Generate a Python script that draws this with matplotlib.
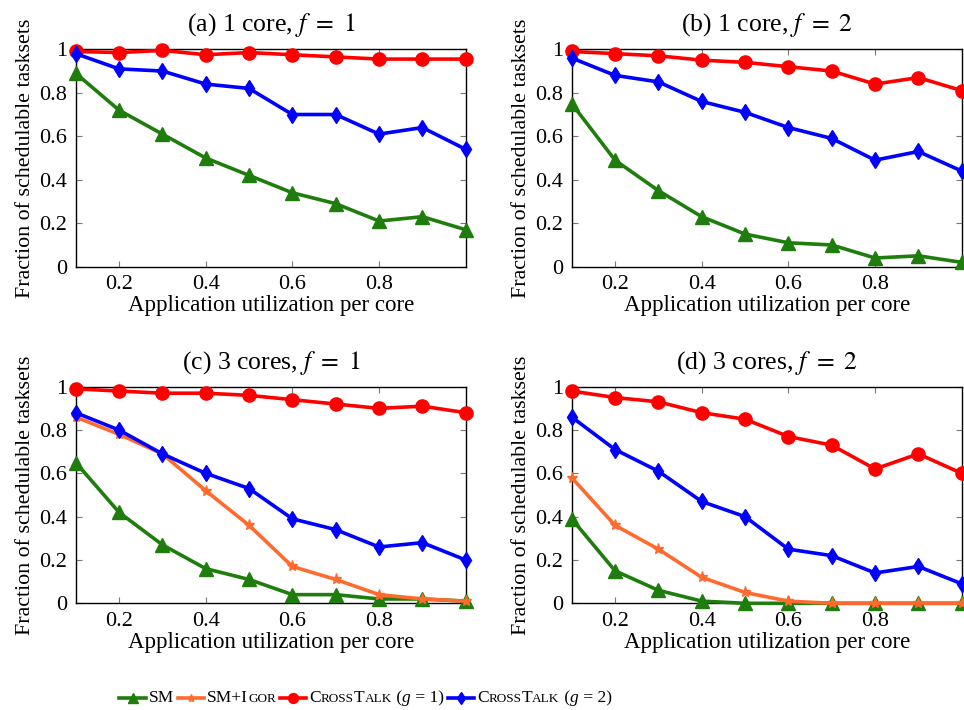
import numpy as np
import matplotlib
matplotlib.use("Agg")
import matplotlib.pyplot as plt
from matplotlib.lines import Line2D
from matplotlib.offsetbox import HPacker, TextArea, DrawingArea, AnchoredOffsetbox

plt.rcParams['font.family'] = ['Liberation Serif', 'DejaVu Serif']
plt.rcParams['mathtext.fontset'] = 'stix'

# utilization per core
util = [0.1, 0.2, 0.3, 0.4, 0.5, 0.6, 0.7, 0.8, 0.9, 1.0]

titles = [r"(a) 1 core, $f\ =\ 1$", r"(b) 1 core, $f\ =\ 2$",
          r"(c) 3 cores, $f\ =\ 1$", r"(d) 3 cores, $f\ =\ 2$"]

# (a) 1 core, f=1
a_sm = [0.89, 0.72, 0.61, 0.50, 0.42, 0.34, 0.29, 0.21, 0.23, 0.17]
a_ct1 = [0.99, 0.985, 0.995, 0.975, 0.985, 0.975, 0.965, 0.955, 0.955, 0.955]
a_ct2 = [0.98, 0.91, 0.90, 0.84, 0.82, 0.70, 0.70, 0.61, 0.64, 0.54]

# (b) 1 core, f=2
b_sm = [0.75, 0.49, 0.35, 0.23, 0.15, 0.11, 0.10, 0.04, 0.05, 0.02]
b_ct1 = [0.99, 0.98, 0.97, 0.95, 0.94, 0.92, 0.90, 0.84, 0.87, 0.81]
b_ct2 = [0.96, 0.88, 0.85, 0.76, 0.71, 0.64, 0.59, 0.49, 0.53, 0.44]

# (c) 3 cores, f=1
c_sm = [0.65, 0.42, 0.27, 0.16, 0.11, 0.04, 0.04, 0.02, 0.02, 0.01]
c_igor = [0.86, 0.78, 0.69, 0.52, 0.36, 0.17, 0.11, 0.04, 0.02, 0.01]
c_ct1 = [0.99, 0.98, 0.97, 0.97, 0.96, 0.94, 0.92, 0.90, 0.91, 0.88]
c_ct2 = [0.88, 0.80, 0.69, 0.60, 0.53, 0.39, 0.34, 0.26, 0.28, 0.20]

# (d) 3 cores, f=2
d_sm = [0.39, 0.15, 0.06, 0.01, 0.0, 0.0, 0.0, 0.0, 0.0, 0.0]
d_igor = [0.58, 0.36, 0.25, 0.12, 0.05, 0.01, 0.0, 0.0, 0.0, 0.0]
d_ct1 = [0.98, 0.95, 0.93, 0.88, 0.85, 0.77, 0.73, 0.62, 0.69, 0.60]
d_ct2 = [0.86, 0.71, 0.61, 0.47, 0.40, 0.25, 0.22, 0.14, 0.17, 0.09]

green = '#1e7d0c'
orange = '#ff6a2e'
red = '#ff0000'
blue = '#0000ff'

styles = {
    'sm': dict(color=green, marker='^', ms=10),
    'igor': dict(color=orange, marker='*', ms=8),
    'ct1': dict(color=red, marker='o', ms=9.5),
    'ct2': dict(color=blue, marker='d', ms=8.5),
}

panels = [
    {'sm': a_sm, 'ct1': a_ct1, 'ct2': a_ct2},
    {'sm': b_sm, 'ct1': b_ct1, 'ct2': b_ct2},
    {'sm': c_sm, 'igor': c_igor, 'ct1': c_ct1, 'ct2': c_ct2},
    {'sm': d_sm, 'igor': d_igor, 'ct1': d_ct1, 'ct2': d_ct2},
]

W, H = 964, 710
fig = plt.figure(figsize=(W / 100, H / 100), dpi=100)

# axes boxes in pixels: left, top, right, bottom
boxes = [(75.7, 49.3, 465.7, 266.7), (571.7, 49.3, 961.7, 266.7),
         (75.7, 386.7, 465.7, 603.3), (571.7, 386.7, 961.7, 603.3)]

for box, title, data in zip(boxes, titles, panels):
    l, t, r, b = box
    ax = fig.add_axes([l / W, 1 - b / H, (r - l) / W, (b - t) / H])
    for key in ['sm', 'igor', 'ct1', 'ct2']:
        if key in data:
            st = styles[key]
            ax.plot(util, data[key], color=st['color'], lw=2.6, marker=st['marker'],
                    ms=st['ms'], clip_on=False, zorder=3)
    ax.set_xlim(0.1, 1.0)
    ax.set_ylim(0, 1)
    ax.set_xticks([0.2, 0.4, 0.6, 0.8])
    ax.set_yticks([0, 0.2, 0.4, 0.6, 0.8, 1.0])
    ax.set_yticklabels(['0', '0.2', '0.4', '0.6', '0.8', '1'])
    ax.tick_params(direction='in', top=True, right=True, length=4, width=0.8,
                   color='#777777', labelsize=16, pad=6)
    for s in ax.spines.values():
        s.set_linewidth(1.0)
    ax.set_title(title, fontsize=18.5, pad=13)
    ax.set_xlabel('Application utilization per core', fontsize=16.5, labelpad=1)
    ax.set_ylabel('Fraction of schedulable tasksets', fontsize=15.8, labelpad=3)


# legend with fake small caps
def handle(key):
    st = styles[key]
    da = DrawingArea(19, 10, 0, 0)
    da.add_artist(Line2D([0, 19], [5, 5], color=st['color'], lw=2.6))
    da.add_artist(Line2D([9.5], [5], color=st['color'], marker=st['marker'],
                         ms=st['ms'] * 0.75, lw=0))
    return da


def txt(s, size, style='normal'):
    return TextArea(s, textprops=dict(size=size, style=style,
                                      family=['Liberation Serif']))


big, small = 12.5, 9.5
entries = [
    ('sm', [txt('SM', big)]),
    ('igor', [txt('SM+I', big), txt('GOR', small)]),
    ('ct1', [txt('C', big), txt('ROSS', small), txt('T', big), txt('ALK', small),
             txt(' (', big), txt('g', big, 'italic'), txt(' = 1)', big)]),
    ('ct2', [txt('C', big), txt('ROSS', small), txt('T', big), txt('ALK', small),
             txt(' (', big), txt('g', big, 'italic'), txt(' = 2)', big)]),
]

items = []
for key, parts in entries:
    label = HPacker(children=parts, sep=0, pad=0, align='baseline')
    items.append(HPacker(children=[handle(key), label], sep=2, pad=0, align='center'))

legend_box = HPacker(children=items, sep=3, pad=0, align='center')
anch = AnchoredOffsetbox(loc='center', child=legend_box, frameon=False,
                         bbox_to_anchor=(365.5 / W, 1 - 698 / H),
                         bbox_transform=fig.transFigure, pad=0, borderpad=0)
fig.add_artist(anch)

fig.savefig('out.png', dpi=100)
